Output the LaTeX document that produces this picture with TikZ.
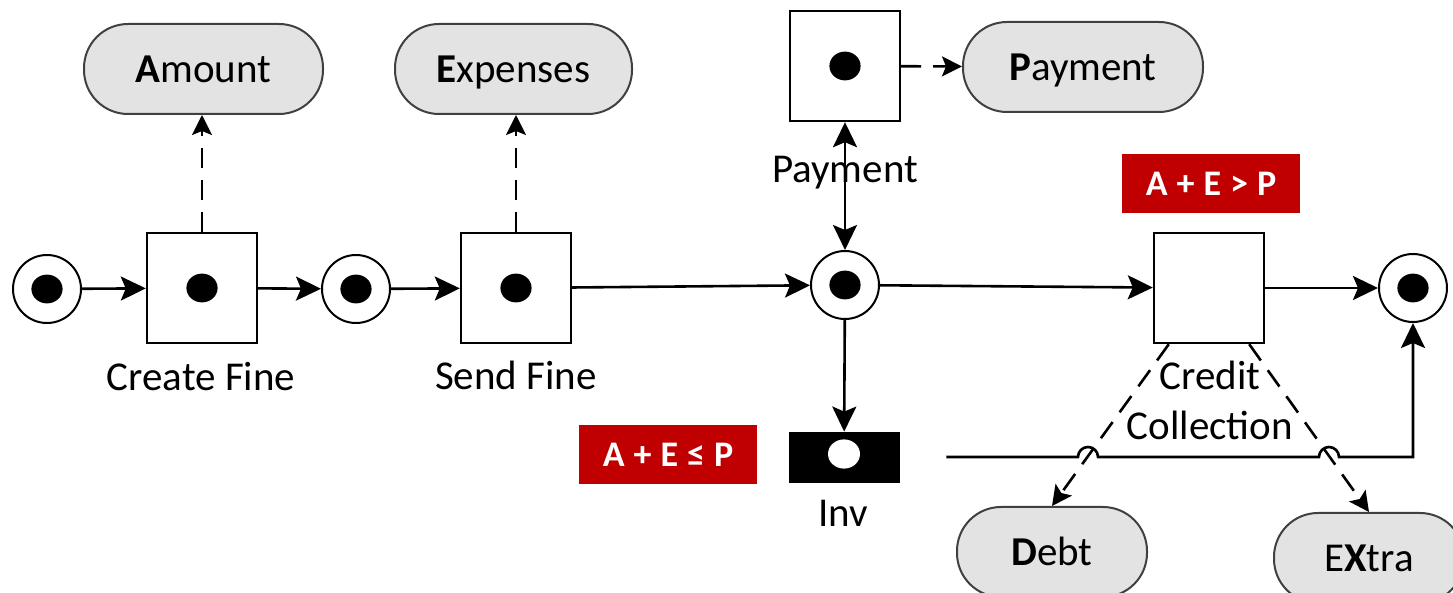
\documentclass[tikz,border=0pt]{standalone}
\usepackage{fontspec}
\setmainfont{Carlito}
\usetikzlibrary{arrows.meta}
\definecolor{pillgray}{HTML}{E3E3E3}
\definecolor{pilledge}{HTML}{404040}
\definecolor{redc}{HTML}{C00000}
\begin{document}
\begin{tikzpicture}[x=0.5pt,y=-0.5pt,
  every node/.style={font=\fontsize{20.5}{25}\selectfont},
  place/.style={circle, draw, line width=1pt, minimum size=34pt, inner sep=0pt,
    path picture={\fill[black] (path picture bounding box.center) ellipse [x radius=7.8pt, y radius=7.2pt];}},
  trans/.style={rectangle, draw, line width=1.2pt, minimum width=55pt, minimum height=55pt, inner sep=0pt},
  ttok/.style={trans, path picture={\fill[black] (path picture bounding box.center) ellipse [x radius=7.8pt, y radius=7.2pt];}},
  invbox/.style={rectangle, fill=black, draw=black, minimum width=55pt, minimum height=25pt, inner sep=0pt,
    path picture={\fill[white] ([yshift=1.5pt]path picture bounding box.center) ellipse [x radius=8pt, y radius=7.3pt];}},
  pill/.style={rectangle, rounded corners=22pt, draw=pilledge, fill=pillgray, line width=1pt, minimum height=45pt, inner sep=0pt, text height=18pt, text depth=4pt},
  redlbl/.style={fill=redc, text=white, font=\fontsize{18}{20}\selectfont\bfseries, minimum width=89pt, minimum height=29.5pt, inner sep=0pt},
  lbl/.style={inner sep=0pt},
  arc/.style={line width=1.3pt, -{Stealth[length=12.5pt,width=12pt,inset=2.5pt]}},
  barc/.style={line width=1.3pt, {Stealth[length=12.5pt,width=12pt,inset=2.5pt]}-{Stealth[length=12.5pt,width=12pt,inset=2.5pt]}},
  darc/.style={line width=1.3pt, dash pattern=on 10pt off 6pt, -{Stealth[length=10pt,width=10pt,inset=2pt]}}
]
\useasboundingbox (0,0) rectangle (1453,593);
\clip (0,0) rectangle (1453,593);

% places and transitions
\node[place] (p1) at (47,289) {};
\node[ttok] (cf) at (202,288) {};
\node[place] (p2) at (356,289) {};
\node[ttok] (sf) at (516,288) {};
\node[place] (p3) at (845,285) {};
\node[ttok] (pt) at (845,66) {};
\node[trans] (cc) at (1209,288) {};
\node[place] (p4) at (1413,288) {};
\node[invbox] (inv) at (844,457) {};

% labels
\node[lbl] (lcf) at (201,377) {Create Fine};
\node[lbl] (lsf) at (516,375) {Send Fine};
\node[lbl] (lpt) at (845,173) {Payment};
\node[lbl, align=center] (lcc) at (1210,400) {Credit\\Collection};
\node[lbl] (linv) at (843,513) {Inv};

% guards
\node[redlbl] (g1) at (1211,183.5) {A\hspace{4.5pt}+\hspace{4.5pt}E\hspace{4.5pt}>\hspace{4.5pt}P};
\node[redlbl] (g2) at (668,455) {A\hspace{4.5pt}+\hspace{4.5pt}E\hspace{4.5pt}≤\hspace{4.5pt}P};

% data objects
\node[pill, minimum width=119.5pt] (amt) at (203.5,69) {\textbf{A}mount};
\node[pill, minimum width=118.5pt] (exp) at (513.5,69) {\textbf{E}xpenses};
\node[pill, minimum width=120pt] (pay) at (1083,67) {\textbf{P}ayment};
\node[pill, minimum width=95pt] (debt) at (1052,552) {\textbf{D}ebt};
\node[pill, minimum width=95pt] (xtra) at (1369,558) {E\textbf{X}tra};

% control flow
\draw[arc] (p1) -- (cf);
\draw[arc] (cf) -- (p2);
\draw[arc] (p2) -- (sf);
\draw[arc] (sf) -- (p3);
\draw[arc] (p3) -- (cc);
\draw[arc] (cc) -- (p4);
\draw[barc] (pt) -- (p3);
\draw[arc] (p3) -- (inv);

% data flow
\draw[darc] (cf.north) -- (cf.north |- amt.south);
\draw[darc] (sf.north) -- (sf.north |- exp.south);
\draw[darc] (pt) -- (pay);
\draw[darc] ([xshift=8pt]cc.south west) -- (debt.north);
\draw[darc] ([xshift=-8pt]cc.south east) -- (xtra.north);

% Inv to end place with line hops
\coordinate (h1) at (1088,457);
\coordinate (h2) at (1329,457);
\draw[arc] ([xshift=23.5pt]inv.east) -- ([xshift=-5pt]h1) arc[start angle=180, end angle=0, radius=5pt]
  -- ([xshift=-5pt]h2) arc[start angle=180, end angle=0, radius=5pt] -| (p4.south);
\end{tikzpicture}
\end{document}
